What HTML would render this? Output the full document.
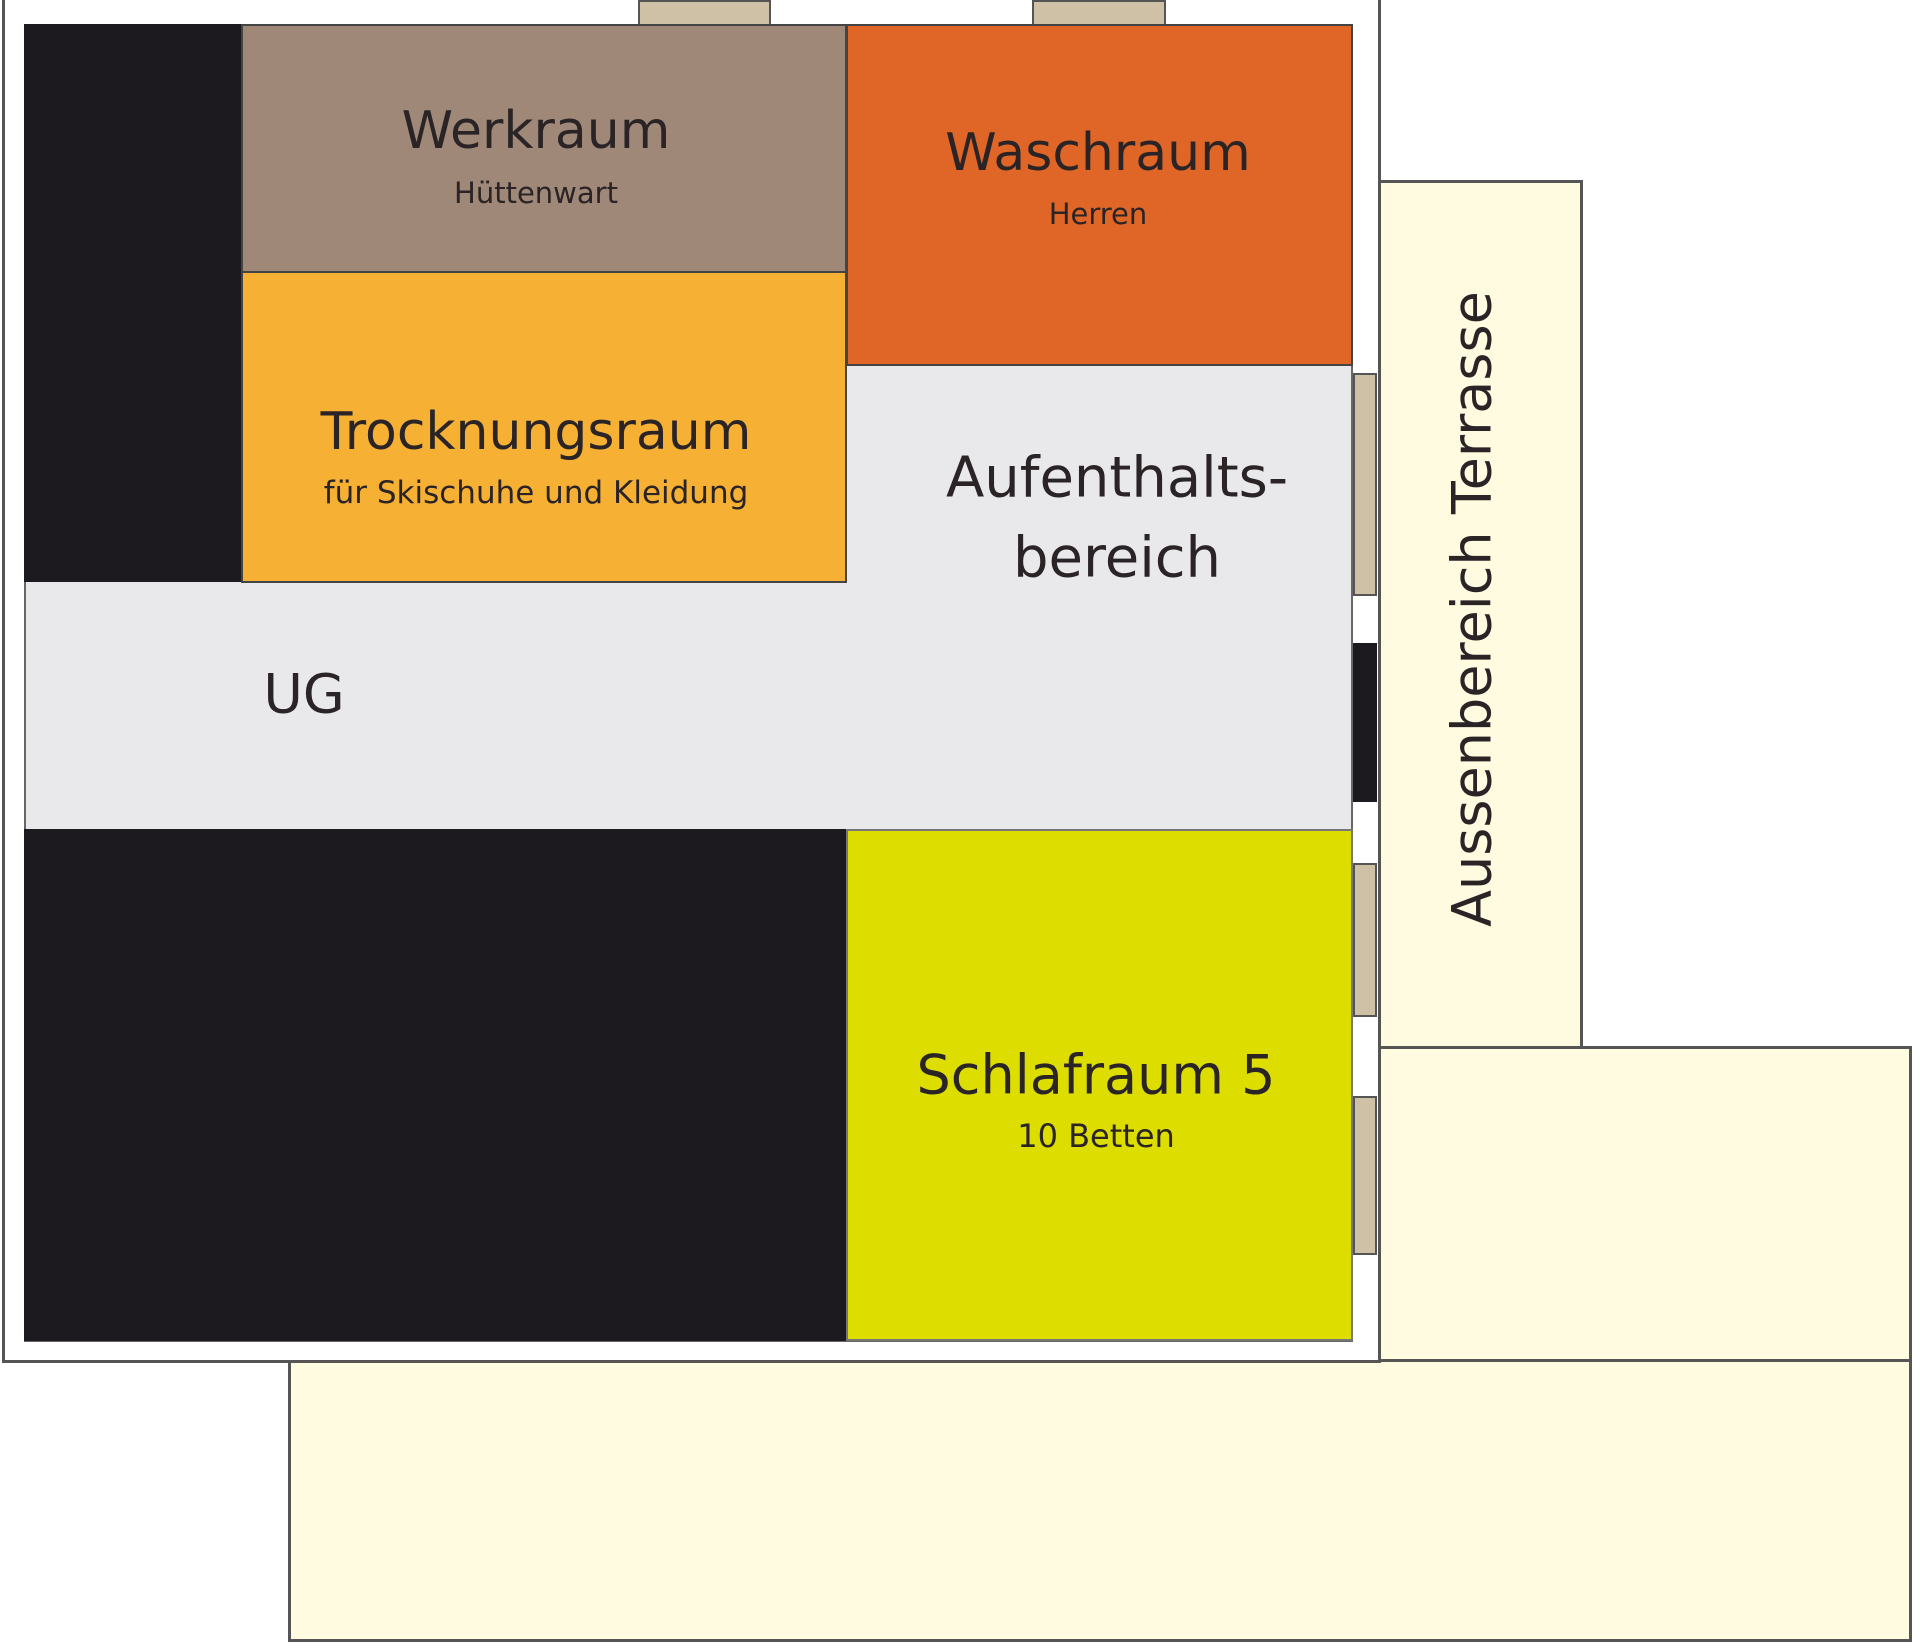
<!DOCTYPE html>
<html><head><meta charset="utf-8"><style>
body{margin:0;width:1920px;height:1646px;background:#fff;position:relative;overflow:hidden;font-family:"DejaVu Sans","Liberation Sans",sans-serif}
div{position:absolute;box-sizing:border-box}
.t{transform:translate(-50%,-50%);white-space:nowrap;color:#2a2426;text-align:center}
</style></head><body>
<div style="left:288px;top:1358px;width:1624px;height:284px;background:#fffbe0;border:3px solid #555"></div>
<div style="left:1377px;top:180px;width:206px;height:870px;background:#fffbe0;border:3px solid #555"></div>
<div style="left:1377px;top:1046px;width:535px;height:316px;background:#fffbe0;border:3px solid #555"></div>
<div style="left:2px;top:-4px;width:1379px;height:1367px;background:#fff;border:3px solid #555"></div>
<div style="left:638px;top:0;width:133px;height:26px;background:#cfc1a5;border:2px solid #555"></div>
<div style="left:1032px;top:0;width:134px;height:26px;background:#cfc1a5;border:2px solid #555"></div>
<div style="left:24px;top:24px;width:1329px;height:1318px;background:#e9e9ec;border:2px solid #666"></div>
<div style="left:24px;top:24px;width:217px;height:558px;background:#1c1a1e"></div>
<div style="left:241px;top:24px;width:606px;height:249px;background:#a08878;border:2px solid #444"></div>
<div style="left:241px;top:271px;width:606px;height:312px;background:#f6b033;border:2px solid #444"></div>
<div style="left:846px;top:24px;width:507px;height:342px;background:#e06628;border:2px solid #444"></div>
<div style="left:24px;top:829px;width:823px;height:512px;background:#1c1a1e"></div>
<div style="left:846px;top:829px;width:507px;height:512px;background:#dddd00;border:2px solid #777"></div>
<div style="left:1353px;top:373px;width:24px;height:223px;background:#cfc1a5;border:2px solid #555"></div>
<div style="left:1353px;top:643px;width:24px;height:159px;background:#1c1a1e"></div>
<div style="left:1353px;top:863px;width:24px;height:154px;background:#cfc1a5;border:2px solid #555"></div>
<div style="left:1353px;top:1096px;width:24px;height:159px;background:#cfc1a5;border:2px solid #555"></div>
<div class="t" style="left:536px;top:131px;font-size:52px">Werkraum</div>
<div class="t" style="left:536px;top:193px;font-size:29px">Hüttenwart</div>
<div class="t" style="left:1098px;top:153px;font-size:52px">Waschraum</div>
<div class="t" style="left:1098px;top:214px;font-size:29px">Herren</div>
<div class="t" style="left:536px;top:432px;font-size:52px">Trocknungsraum</div>
<div class="t" style="left:536px;top:493px;font-size:31px">für Skischuhe und Kleidung</div>
<div class="t" style="left:1117px;top:478px;font-size:56px">Aufenthalts-</div>
<div class="t" style="left:1117px;top:558px;font-size:56px">bereich</div>
<div class="t" style="left:304px;top:694px;font-size:54px">UG</div>
<div class="t" style="left:1096px;top:1075px;font-size:54px">Schlafraum 5</div>
<div class="t" style="left:1096px;top:1136px;font-size:32px">10 Betten</div>
<div class="t" style="left:1472px;top:609px;font-size:54px;transform:translate(-50%,-50%) rotate(-90deg)">Aussenbereich Terrasse</div>
</body></html>
